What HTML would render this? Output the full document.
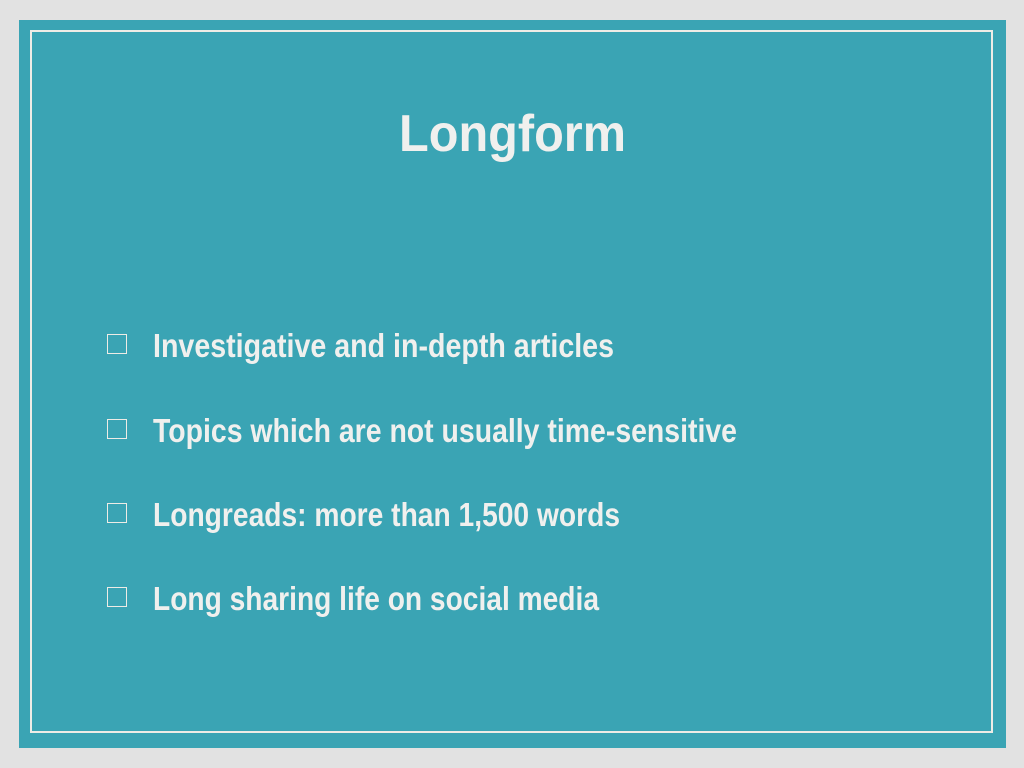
<!DOCTYPE html>
<html><head><meta charset="utf-8"><style>
body{margin:0;width:1024px;height:768px;background:#e2e2e2;position:relative;overflow:hidden;font-family:"Liberation Sans",sans-serif}
#card{position:absolute;left:19px;top:20px;width:987px;height:728px;background:#3aa4b4}
#inner{position:absolute;left:30px;top:30px;width:963px;height:703px;border:2px solid #eeece6;box-sizing:border-box}
.t{position:absolute;white-space:nowrap;color:#f0f0ee;font-weight:bold;transform-origin:0 0}
.box{position:absolute;left:107px;width:20px;height:20px;border:1.5px solid #eeece6;box-sizing:border-box}
</style></head><body>
<div id="card"></div>
<div id="inner"></div>
<div class="t" id="title" data-w="227" style="left:399px;top:104px;font-size:52px;">Longform</div>
<div class="box" style="top:334px"></div>
<div class="t" data-w="461" style="left:153px;top:327px;font-size:33px">Investigative and in-depth articles</div>
<div class="box" style="top:419px"></div>
<div class="t" data-w="584" style="left:153px;top:412px;font-size:33px">Topics which are not usually time-sensitive</div>
<div class="box" style="top:503px"></div>
<div class="t" data-w="467" style="left:153px;top:496px;font-size:33px">Longreads: more than 1,500 words</div>
<div class="box" style="top:587px"></div>
<div class="t" data-w="446" style="left:153px;top:580px;font-size:33px">Long sharing life on social media</div>
<script>
document.querySelectorAll('.t').forEach(function(e){
  var w=e.getBoundingClientRect().width;
  e.style.transform='scaleX('+(parseFloat(e.dataset.w)/w)+')';
});
</script>
</body></html>
